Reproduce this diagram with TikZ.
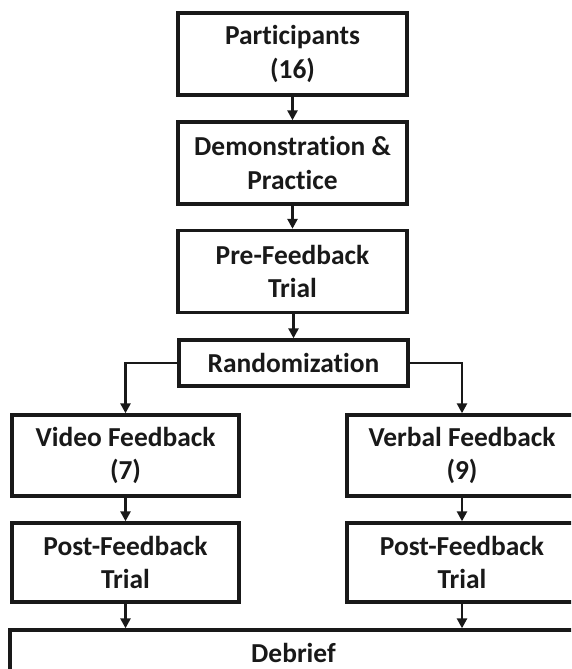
\documentclass[tikz,border=0pt]{standalone}
\usepackage{fontspec}
\setmainfont{Carlito}[Ligatures={NoCommon}]
\usetikzlibrary{arrows.meta, positioning}
\colorlet{boxline}{black!90}

\begin{document}
\begin{tikzpicture}[x=0.025cm, y=-0.025cm, >={Triangle[width=7pt, length=7pt]},
    box/.style={draw=boxline, line width=2.4pt, align=center, inner sep=0pt,
      font=\fontsize{19.5}{24}\selectfont\bfseries, text=black!90},
    arr/.style={->, draw=boxline, line width=1.8pt}]

    % Page size
    \useasboundingbox (0,0) rectangle (571,669);
    \clip (0,0) rectangle (571,669);

    % Main column
    \node[box, minimum width=5.725cm, minimum height=2.05cm] (part) at (292.5,54) {Participants\\(16)};
    \node[box, minimum width=5.725cm, minimum height=2.05cm] (demo) at (292.5,163) {Demonstration \&\\Practice};
    \node[box, minimum width=5.725cm, minimum height=2.05cm] (pre) at (292.5,271.5) {Pre-Feedback\\Trial};
    \node[box, minimum width=5.725cm, minimum height=1.15cm] (rand) at (293.5,363) {Randomization};

    % Two groups
    \node[box, minimum width=5.675cm, minimum height=2.025cm] (video) at (125.5,455.5) {Video Feedback\\(7)};
    \node[box, minimum width=5.75cm, minimum height=2.025cm] (verbal) at (462,455.5) {Verbal Feedback\\(9)};
    \node[box, minimum width=5.675cm, minimum height=1.975cm] (postl) at (125.5,562.5) {Post-Feedback\\Trial};
    \node[box, minimum width=5.75cm, minimum height=1.975cm] (postr) at (462,562.5) {Post-Feedback\\Trial};

    % Debrief (runs off the page)
    \node[box, minimum width=14.175cm, minimum height=1.15cm] (debrief) at (293.5,653) {Debrief};

    % Arrows
    \draw[arr] (part) -- (demo);
    \draw[arr] (demo) -- (pre);
    \draw[arr] (pre.south -| rand.north) -- (rand.north);
    \draw[arr] (rand.west) -| (video.north);
    \draw[arr] (rand.east) -| (verbal.north);
    \draw[arr] (video) -- (postl);
    \draw[arr] (verbal) -- (postr);
    \draw[arr] (postl.south) -- (postl.south |- debrief.north);
    \draw[arr] (postr.south) -- (postr.south |- debrief.north);

\end{tikzpicture}
\end{document}
